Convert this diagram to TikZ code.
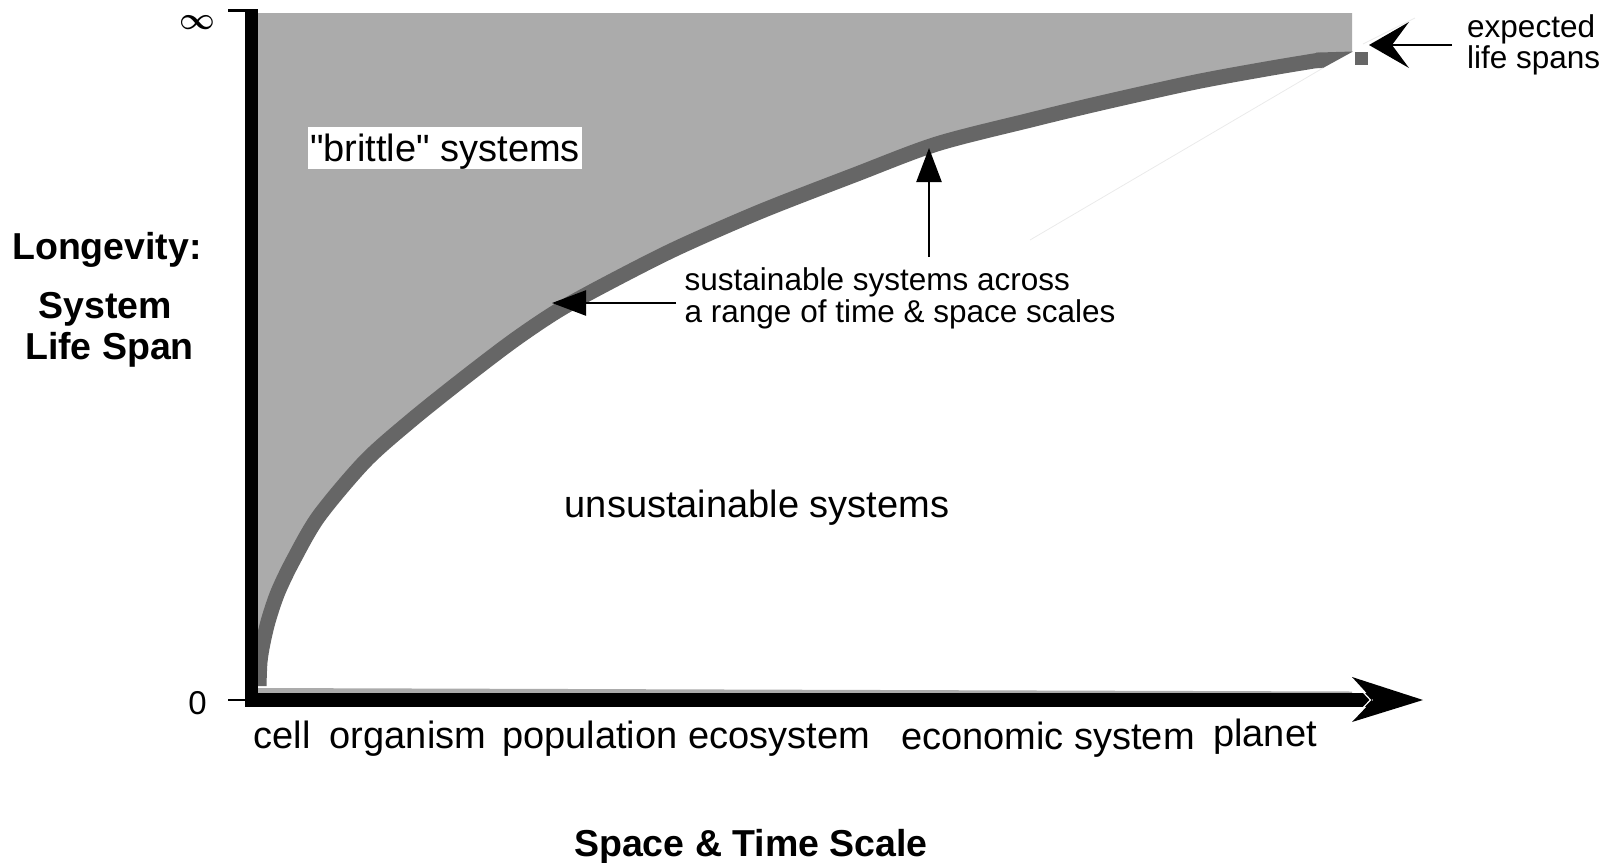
\documentclass[tikz,border=0pt]{standalone}
\usepackage{amsmath}
\usepackage{fontspec}
\setmainfont{Liberation Sans}
\usetikzlibrary{arrows.meta}
\definecolor{lightfill}{HTML}{ABABAB}
\definecolor{darkband}{HTML}{666666}
\definecolor{faint}{HTML}{EAEAEA}
\begin{document}
\begin{tikzpicture}[x=1pt,y=-1pt,
  lbl/.style={font=\fontsize{38}{44}\selectfont, inner sep=0pt, anchor=base},
  smalllbl/.style={font=\fontsize{31.5}{32}\selectfont, inner sep=0pt, anchor=base west},
  boldlbl/.style={font=\bfseries\fontsize{37.5}{42}\selectfont, inner sep=0pt, anchor=base},
  ann/.style={line width=2.4pt, -{Triangle[length=34pt,width=25pt]}},
  axisline/.style={line width=13.5pt},
  band/.style={darkband, line width=15pt}]
\useasboundingbox (0,0) rectangle (1614,862);
% light grey "brittle" region, bounded below by the centre line of the band
\fill[lightfill] (258,13) -- (1352,13) -- (1352,52) -- (1320,60)
  -- plot[smooth] coordinates {(1320,60) (1266,69) (1194,82.3) (1101,103) (1029,120.4) (936.7,144) (854.3,175) (761.7,211) (679.3,247) (617.6,278) (561,308.8) (514.7,339.7) (463.2,378.8) (411.7,420) (365.4,461) (319,516) (293.4,560) (278,592) (268.5,620) (263,643) (260,662) (259,686)}
  -- (258,686) -- cycle;
% the band of sustainable systems
\draw[band] plot[smooth] coordinates {(259,686) (260,662) (263,643) (268.5,620) (278,592) (293.4,560) (319,516) (365.4,461) (411.7,420) (463.2,378.8) (514.7,339.7) (561,308.8) (617.6,278) (679.3,247) (761.7,211) (854.3,175) (936.7,144) (1029,120.4) (1101,103) (1194,82.3) (1266,69) (1320,60)};
\fill[darkband] (1316,52.6) -- (1353,51.5) -- (1323,68) -- (1316,68) -- cycle;
% faint traces
\draw[faint, line width=0.8pt] (1323,68) -- (1030,240);
\draw[faint, line width=0.8pt] (1363,44) -- (1415,18);
% thin grey sliver above x axis
\fill[lightfill] (258,688) -- (1352,691.5) -- (1352,694) -- (258,694) -- cycle;
% axes
\coordinate (O) at (251.5,707);
\coordinate (ytop) at (251.5,9);
\coordinate (xend) at (1372,700);
\draw[axisline] (ytop) -- (O);
\draw[line width=14pt] (245,700) -- (xend);
\draw[white, line width=1.2pt] (1350,678) -- (1370.5,700) -- (1350,721);
\fill (1423,700) -- (1352,677) -- (1373,700) -- (1352,722) -- cycle;
\draw[line width=2.5pt] (228,10.5) -- (245,10.5);
\draw[line width=2.5pt] (228,700) -- (245,700);
\node[font=\fontsize{24.88}{26}\selectfont, inner sep=0pt] (inf) at (197.5,22.5) {\scalebox{1.25}{$\boldsymbol{\infty}$}};
\node[font=\fontsize{33}{35}\selectfont, inner sep=0pt] (zero) at (197.5,703.5) {0};
% expected life spans
\fill[darkband] (1355,52) rectangle (1368,65);
\coordinate (lsTail) at (1452,45);
\coordinate (lsNotch) at (1392,45);
\draw[line width=2pt] (lsTail) -- (lsNotch);
\fill (1369,45) -- (1409,22) -- (lsNotch) -- (1409,68) -- cycle;
\node[smalllbl] (exp) at (1467,37) {expected};
\node[smalllbl] (life) at (1467,68) {life spans};
% labels
\node[lbl, fill=white, inner xsep=2pt, inner ysep=2pt, text height=32.5pt, text depth=5.5pt] (brittle) at (445,161.5) {\textquotedbl brittle\textquotedbl{} systems};
\node[lbl] (unsust) at (757,517) {unsustainable systems};
\node[smalllbl] (sust1) at (684.5,290) {sustainable systems across};
\node[smalllbl] (sust2) at (684.5,322) {a range of time \& space scales};
\coordinate (upTail) at (929,257);
\coordinate (upTip) at (929,148);
\coordinate (lfTail) at (676,303);
\coordinate (lfTip) at (552,303);
\draw[ann] (upTail) -- (upTip);
\draw[ann] (lfTail) -- (lfTip);
% y axis title
\node[boldlbl] (longev) at (107,259) {Longevity:};
\node[boldlbl] (system) at (105.5,318) {System};
\node[boldlbl] (lifespan) at (109.5,359) {Life Span};
% x axis labels
\node[lbl] (cell) at (282,748) {cell};
\node[lbl] (organism) at (408,748) {organism};
\node[lbl] (population) at (590,748) {population};
\node[lbl] (ecosystem) at (779,748) {ecosystem};
\node[lbl] (econ) at (1048,749) {economic system};
\node[lbl] (planet) at (1265,746) {planet};
\node[boldlbl] (xtitle) at (751,856) {Space \& Time Scale};
\end{tikzpicture}
\end{document}
